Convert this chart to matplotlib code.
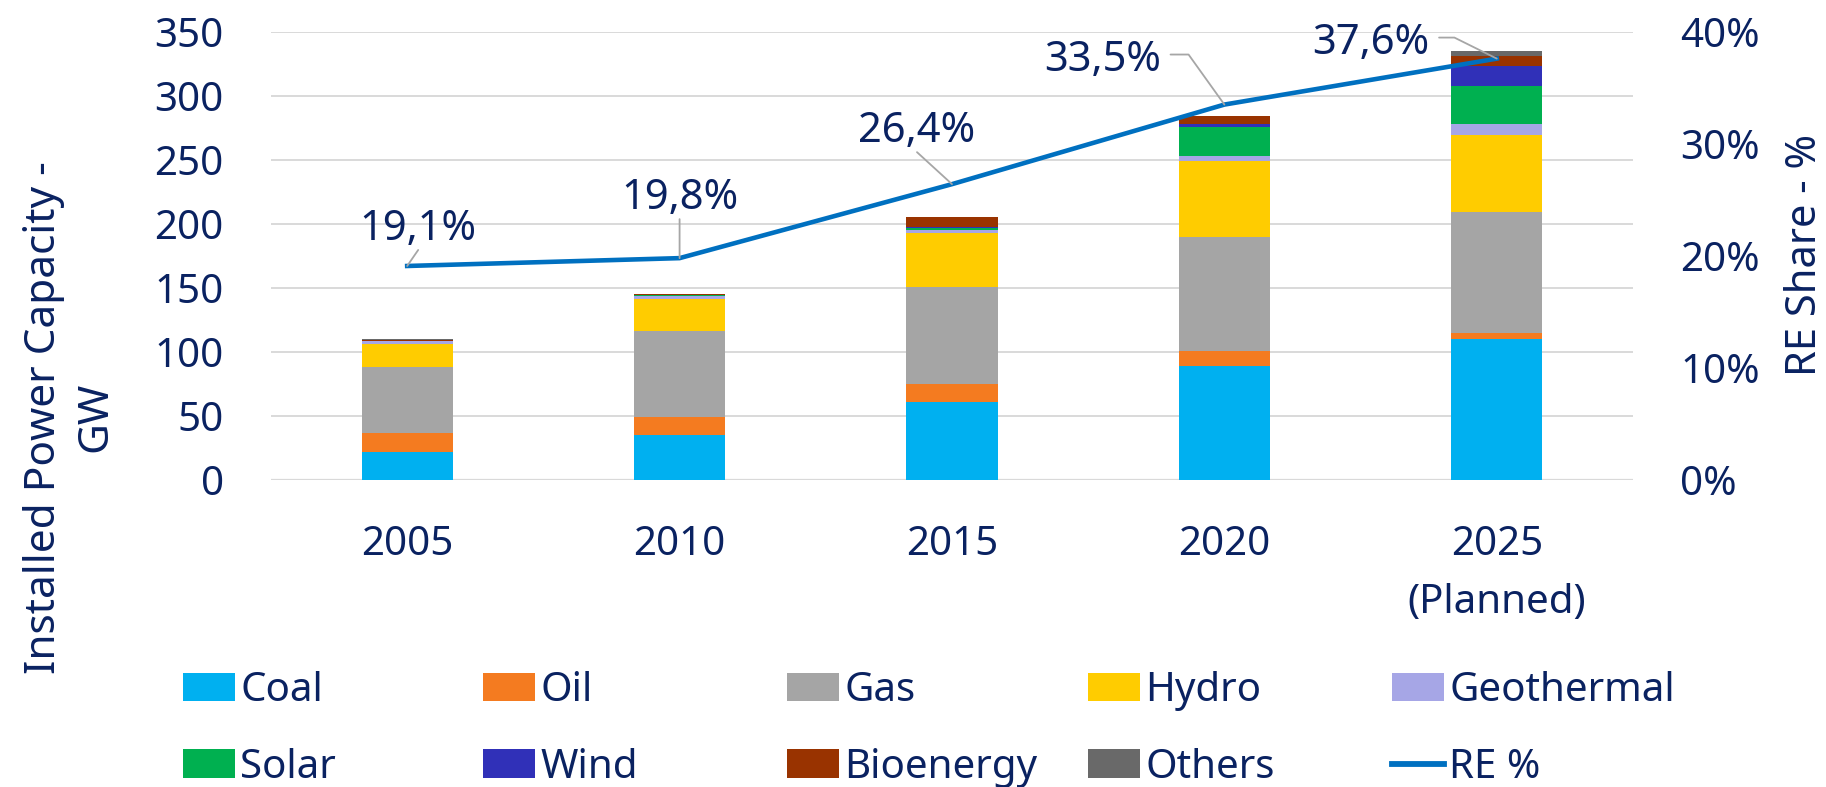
import numpy as np
import matplotlib
matplotlib.use("Agg")
import matplotlib.pyplot as plt
from matplotlib.lines import Line2D
from matplotlib.ticker import FuncFormatter

# ---------- DATA ----------
years = ["2005", "2010", "2015", "2020", "2025\n(Planned)"]

coal = [22, 35, 61, 89, 110]
oil = [14.5, 14, 14, 12, 5]
gas = [52, 67, 76, 88.5, 94]
hydro = [17.5, 25.5, 41.5, 59.5, 60.5]
geothermal = [2.5, 2.5, 3, 4, 8.5]
solar = [0.2, 0.2, 1.5, 22.5, 30]
wind = [0, 0, 0.3, 2.5, 15]
bioenergy = [0.8, 1, 8, 6, 8]
others = [0.3, 0.2, 0.3, 0.5, 4]

re_share = [19.1, 19.8, 26.4, 33.5, 37.6]

series_names = ["Coal", "Oil", "Gas", "Hydro", "Geothermal",
                "Solar", "Wind", "Bioenergy", "Others"]
series_values = [coal, oil, gas, hydro, geothermal,
                 solar, wind, bioenergy, others]

# ---------- STYLE ----------
colors = ["#00B0F0", "#F47B20", "#A5A5A5", "#FFCC00", "#A6A6E6",
          "#00B050", "#3030B8", "#993300", "#696969"]
line_color = "#0070C0"
text_color = "#0A2261"
grid_color = "#D9D9D9"
FS = 29

plt.rcParams["font.family"] = ["Noto Sans", "DejaVu Sans"]
plt.rcParams["text.color"] = text_color

fig = plt.figure(figsize=(18.26, 7.87), dpi=100)
ax = fig.add_axes([0.1484, 0.390, 0.7459, 0.5697])
ax2 = ax.twinx()

x = np.arange(len(years))
bottom = np.zeros(len(years))
bars = []
for name, vals, c in zip(series_names, series_values, colors):
    b = ax.bar(x, vals, 0.335, bottom=bottom, color=c, label=name,
               linewidth=0, zorder=2)
    bars.append(b)
    bottom += np.array(vals)

ax.set_xlim(-0.5, len(years) - 0.5)
ax.set_ylim(0, 350)
ax.set_yticks(np.arange(0, 351, 50))
ax.yaxis.grid(True, color=grid_color, linewidth=1.4)
ax.set_axisbelow(True)
for s in ax.spines.values():
    s.set_visible(False)
for s in ax2.spines.values():
    s.set_visible(False)
ax.axhline(0, color=grid_color, linewidth=1.6, zorder=1)

ax.set_xticks(x)
ax.set_xticklabels(years, fontsize=FS, color=text_color, linespacing=1.6)
ax.tick_params(axis="x", length=0, pad=32)
ax.tick_params(axis="y", length=0, pad=34, labelsize=FS, labelcolor=text_color)

# ---------- RE SHARE LINE ----------
line, = ax2.plot(x, re_share, color=line_color, linewidth=3.3,
                 solid_joinstyle="miter", label="RE %", zorder=3)
ax2.set_ylim(0, 40)
ax2.set_yticks(np.arange(0, 41, 10))
ax2.yaxis.set_major_formatter(FuncFormatter(lambda v, p: f"{v:.0f}%"))
ax2.tick_params(axis="y", length=0, pad=34, labelsize=FS, labelcolor=text_color)

# label offsets (pixels) and leader styles
offsets = [(11, 26), (0, 49), (-35, 42), (-122, 34), (-126, 5)]
leader = [
    dict(relpos=(0.5, 0.0), connectionstyle="arc3", shrinkA=0),
    dict(relpos=(0.5, 0.0), connectionstyle="arc3", shrinkA=0),
    dict(relpos=(0.5, 0.0), connectionstyle="arc3", shrinkA=0),
    dict(relpos=(1.0, 0.62), connectionstyle="angle,angleA=0,angleB=125.6,rad=0", shrinkA=7),
    dict(relpos=(1.0, 0.62), connectionstyle="angle,angleA=0,angleB=153.6,rad=0", shrinkA=7),
]
for i, v in enumerate(re_share):
    lbl = f"{v:.1f}%".replace(".", ",")
    ap = dict(arrowstyle="-", color="#A6A6A6", lw=1.3, shrinkB=0, patchA=None)
    ap.update(leader[i])
    ax2.annotate(lbl, xy=(x[i], v), xytext=offsets[i], textcoords="offset pixels",
                 ha="center", va="baseline", fontsize=FS + 1, color=text_color,
                 arrowprops=ap, zorder=4)

# ---------- AXIS TITLES ----------
fig.text(0.0383, 0.47, "Installed Power Capacity -\nGW", rotation=90,
         ha="center", va="center", multialignment="center",
         fontsize=FS + 1.5, color=text_color, linespacing=1.3)
fig.text(0.9885, 0.676, "RE Share - %", rotation=90, ha="center", va="center",
         fontsize=FS + 1, color=text_color)

# ---------- LEGEND (equal column widths, like the original) ----------
line_handle = Line2D([], [], color=line_color, linewidth=4.2)
handles = bars + [line_handle]
labels = series_names + ["RE %"]
col_x = [183, 483, 787, 1088, 1392]
for k in range(5):
    hs = [handles[k], handles[k + 5]]
    ls = [labels[k], labels[k + 5]]
    fig.legend(hs, ls, loc="center left",
               bbox_to_anchor=(col_x[k] / 1826, 0.073),
               frameon=False, fontsize=FS, labelcolor=text_color,
               handlelength=1.3, handleheight=0.7, handletextpad=0.12,
               labelspacing=0.9, borderpad=0, borderaxespad=0)

fig.savefig("out.png", dpi=100)
